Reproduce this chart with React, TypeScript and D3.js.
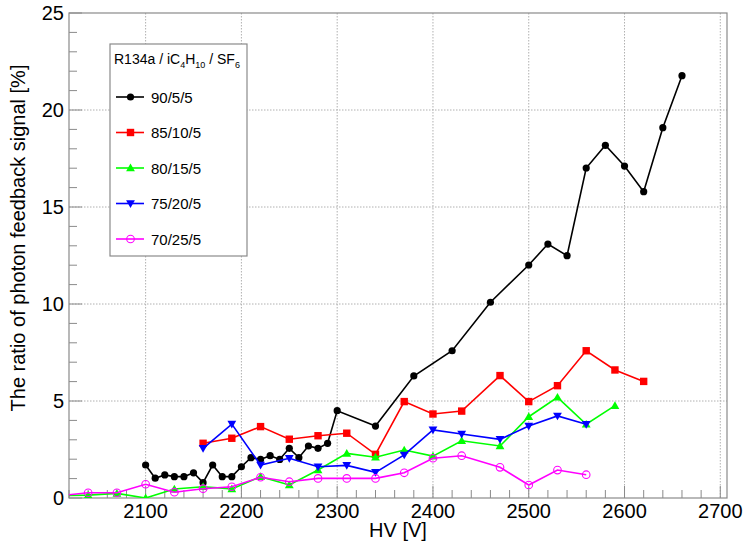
import React from "react";
import * as d3 from "d3";

const hv90 = [2100, 2110, 2120, 2130, 2140, 2150, 2160, 2170, 2180, 2190, 2200, 2210, 2220, 2230, 2240, 2250, 2260, 2270, 2280, 2290, 2300, 2340, 2380, 2420, 2460, 2500, 2520, 2540, 2560, 2580, 2600, 2620, 2640, 2660];
const r90 = [1.70, 1.02, 1.19, 1.10, 1.10, 1.30, 0.79, 1.70, 1.10, 1.10, 1.61, 2.08, 1.99, 2.18, 1.99, 2.56, 2.08, 2.68, 2.56, 2.82, 4.50, 3.71, 6.29, 7.59, 10.09, 12.01, 13.09, 12.49, 17.01, 18.18, 17.11, 15.79, 19.09, 21.77];

const hv85 = [2160, 2190, 2220, 2250, 2280, 2310, 2340, 2370, 2400, 2430, 2470, 2500, 2530, 2560, 2590, 2620];
const r85 = [2.82, 3.08, 3.68, 3.03, 3.21, 3.34, 2.25, 4.97, 4.33, 4.48, 6.31, 4.97, 5.79, 7.59, 6.60, 6.01];

const hv80 = [2010, 2040, 2070, 2100, 2130, 2160, 2190, 2220, 2250, 2280, 2310, 2340, 2370, 2400, 2430, 2470, 2500, 2530, 2560, 2590];
const r80 = [0.12, 0.15, 0.24, 0.0, 0.46, 0.58, 0.47, 1.1, 0.67, 1.44, 2.30, 2.10, 2.47, 2.16, 2.95, 2.68, 4.19, 5.19, 3.8, 4.76];

const hv75 = [2160, 2190, 2220, 2250, 2280, 2310, 2340, 2370, 2400, 2430, 2470, 2500, 2530, 2560];
const r75 = [2.56, 3.81, 1.70, 2.05, 1.61, 1.68, 1.32, 2.22, 3.51, 3.30, 3.02, 3.71, 4.23, 3.80];

const hv70 = [2010, 2040, 2070, 2100, 2130, 2160, 2190, 2220, 2250, 2280, 2310, 2340, 2370, 2400, 2430, 2470, 2500, 2530, 2560];
const r70 = [0.12, 0.27, 0.27, 0.71, 0.30, 0.48, 0.58, 1.07, 0.84, 1.01, 1.01, 1.01, 1.30, 2.05, 2.18, 1.58, 0.67, 1.44, 1.20];

const seriesLabels = ["90/5/5", "85/10/5", "80/15/5", "75/20/5", "70/25/5"];
const seriesColors = ["#000000", "#ff0000", "#00ff00", "#0000ff", "#ff00ff"];
const seriesMarkers = ["circle", "square", "triUp", "triDown", "openCircle"];
const seriesX = [hv90, hv85, hv80, hv75, hv70];
const seriesY = [r90, r85, r80, r75, r70];

const xTicks = [2100, 2200, 2300, 2400, 2500, 2600, 2700];
const yTicks = [0, 5, 10, 15, 20, 25];

const FONT = "'Liberation Sans', Arial, Helvetica, sans-serif";
const L = 69, R = 727, T = 13, B = 498;

function Marker({ type, x, y, color }: { type: string; x: number; y: number; color: string }) {
  if (type === "circle") return <circle cx={x} cy={y} r={3.6} fill={color} />;
  if (type === "openCircle") return <circle cx={x} cy={y} r={3.8} fill="none" stroke={color} strokeWidth={1.1} />;
  if (type === "square") return <rect x={x - 3.7} y={y - 3.7} width={7.4} height={7.4} fill={color} />;
  const s = 4.4;
  if (type === "triUp")
    return <path d={`M${x},${y - s}L${x + s},${y + s * 0.75}L${x - s},${y + s * 0.75}Z`} fill={color} />;
  return <path d={`M${x},${y + s}L${x + s},${y - s * 0.75}L${x - s},${y - s * 0.75}Z`} fill={color} />;
}

export default function App() {
  const x = d3.scaleLinear().domain([2020, 2707]).range([L, R]);
  const y = d3.scaleLinear().domain([0, 25]).range([B, T]);
  const line = d3.line<[number, number]>().x((d) => x(d[0])).y((d) => y(d[1]));

  const xMinor = d3.range(2020, 2707, 20);
  const yMinor = d3.range(0, 25.01, 1);

  const legendY = [97, 132.5, 168, 203.5, 239];

  return (
    <svg width={745} height={542} style={{ position: "absolute", left: 0, top: 0, background: "#fff" }} fontFamily={FONT}>
      <defs>
        <clipPath id="plotclip">
          <rect x={L} y={T} width={R - L} height={B - T} />
        </clipPath>
      </defs>
      <rect x={0} y={0} width={745} height={542} fill="#fff" />
      {xTicks.map((t) => (
        <line key={"gx" + t} x1={x(t)} x2={x(t)} y1={T} y2={B} stroke="#b0b0b0" strokeWidth={1} strokeDasharray="1.5,1.5" />
      ))}
      {yTicks.filter((t) => t > 0 && t < 25).map((t) => (
        <line key={"gy" + t} x1={L} x2={R} y1={y(t)} y2={y(t)} stroke="#b0b0b0" strokeWidth={1} strokeDasharray="1.5,1.5" />
      ))}
      {xMinor.map((t) => (
        <line key={"tx" + t} x1={x(t)} x2={x(t)} y1={B} y2={B - (t % 100 === 0 ? 12 : 8)} stroke="#8a8a8a" strokeWidth={1} />
      ))}
      {yMinor.map((t) => (
        <line key={"ty" + t} x1={L} x2={L + (t % 5 === 0 ? 13 : 8)} y1={y(t)} y2={y(t)} stroke="#8a8a8a" strokeWidth={1} />
      ))}
      <rect x={L} y={T} width={R - L} height={B - T} fill="none" stroke="#8a8a8a" strokeWidth={1.2} />
      <g clipPath="url(#plotclip)">
        {seriesX.map((xs, i) => {
          const pts: [number, number][] = xs.map((v, j) => [v, seriesY[i][j]]);
          return (
            <g key={"s" + i}>
              <path d={line(pts) || ""} fill="none" stroke={seriesColors[i]} strokeWidth={1.6} />
              {pts.map((p, j) => (
                <Marker key={j} type={seriesMarkers[i]} x={x(p[0])} y={y(p[1])} color={seriesColors[i]} />
              ))}
            </g>
          );
        })}
      </g>
      {xTicks.map((t) => (
        <text key={"lx" + t} x={x(t)} y={518} fontSize={20} textAnchor="middle" fill="#000">
          {t}
        </text>
      ))}
      {yTicks.map((t) => (
        <text key={"ly" + t} x={64} y={y(t) + 7} fontSize={20} textAnchor="end" fill="#000">
          {t}
        </text>
      ))}
      <text x={(L + R) / 2} y={537} fontSize={20} textAnchor="middle" fill="#000">HV [V]</text>
      <text transform={`translate(25,238) rotate(-90)`} fontSize={20} textAnchor="middle" fill="#000">
        The ratio of photon feedback signal [%]
      </text>
      <rect x={110} y={44} width={137} height={212} fill="#fff" stroke="#8a8a8a" strokeWidth={1.2} />
      <text x={114} y={64} fontSize={14} fill="#000">
        R134a / iC<tspan fontSize={9} dy={4}>4</tspan><tspan dy={-4}>H</tspan>
        <tspan fontSize={9} dy={4}>10</tspan><tspan dy={-4}> / SF</tspan>
        <tspan fontSize={9} dy={4}>6</tspan>
      </text>
      {seriesLabels.map((lab, i) => (
        <g key={"lg" + i}>
          <line x1={116} x2={144} y1={legendY[i]} y2={legendY[i]} stroke={seriesColors[i]} strokeWidth={1.6} />
          <Marker type={seriesMarkers[i]} x={130.5} y={legendY[i]} color={seriesColors[i]} />
          <text x={151} y={legendY[i] + 5.5} fontSize={15} fill="#000">{lab}</text>
        </g>
      ))}
    </svg>
  );
}
